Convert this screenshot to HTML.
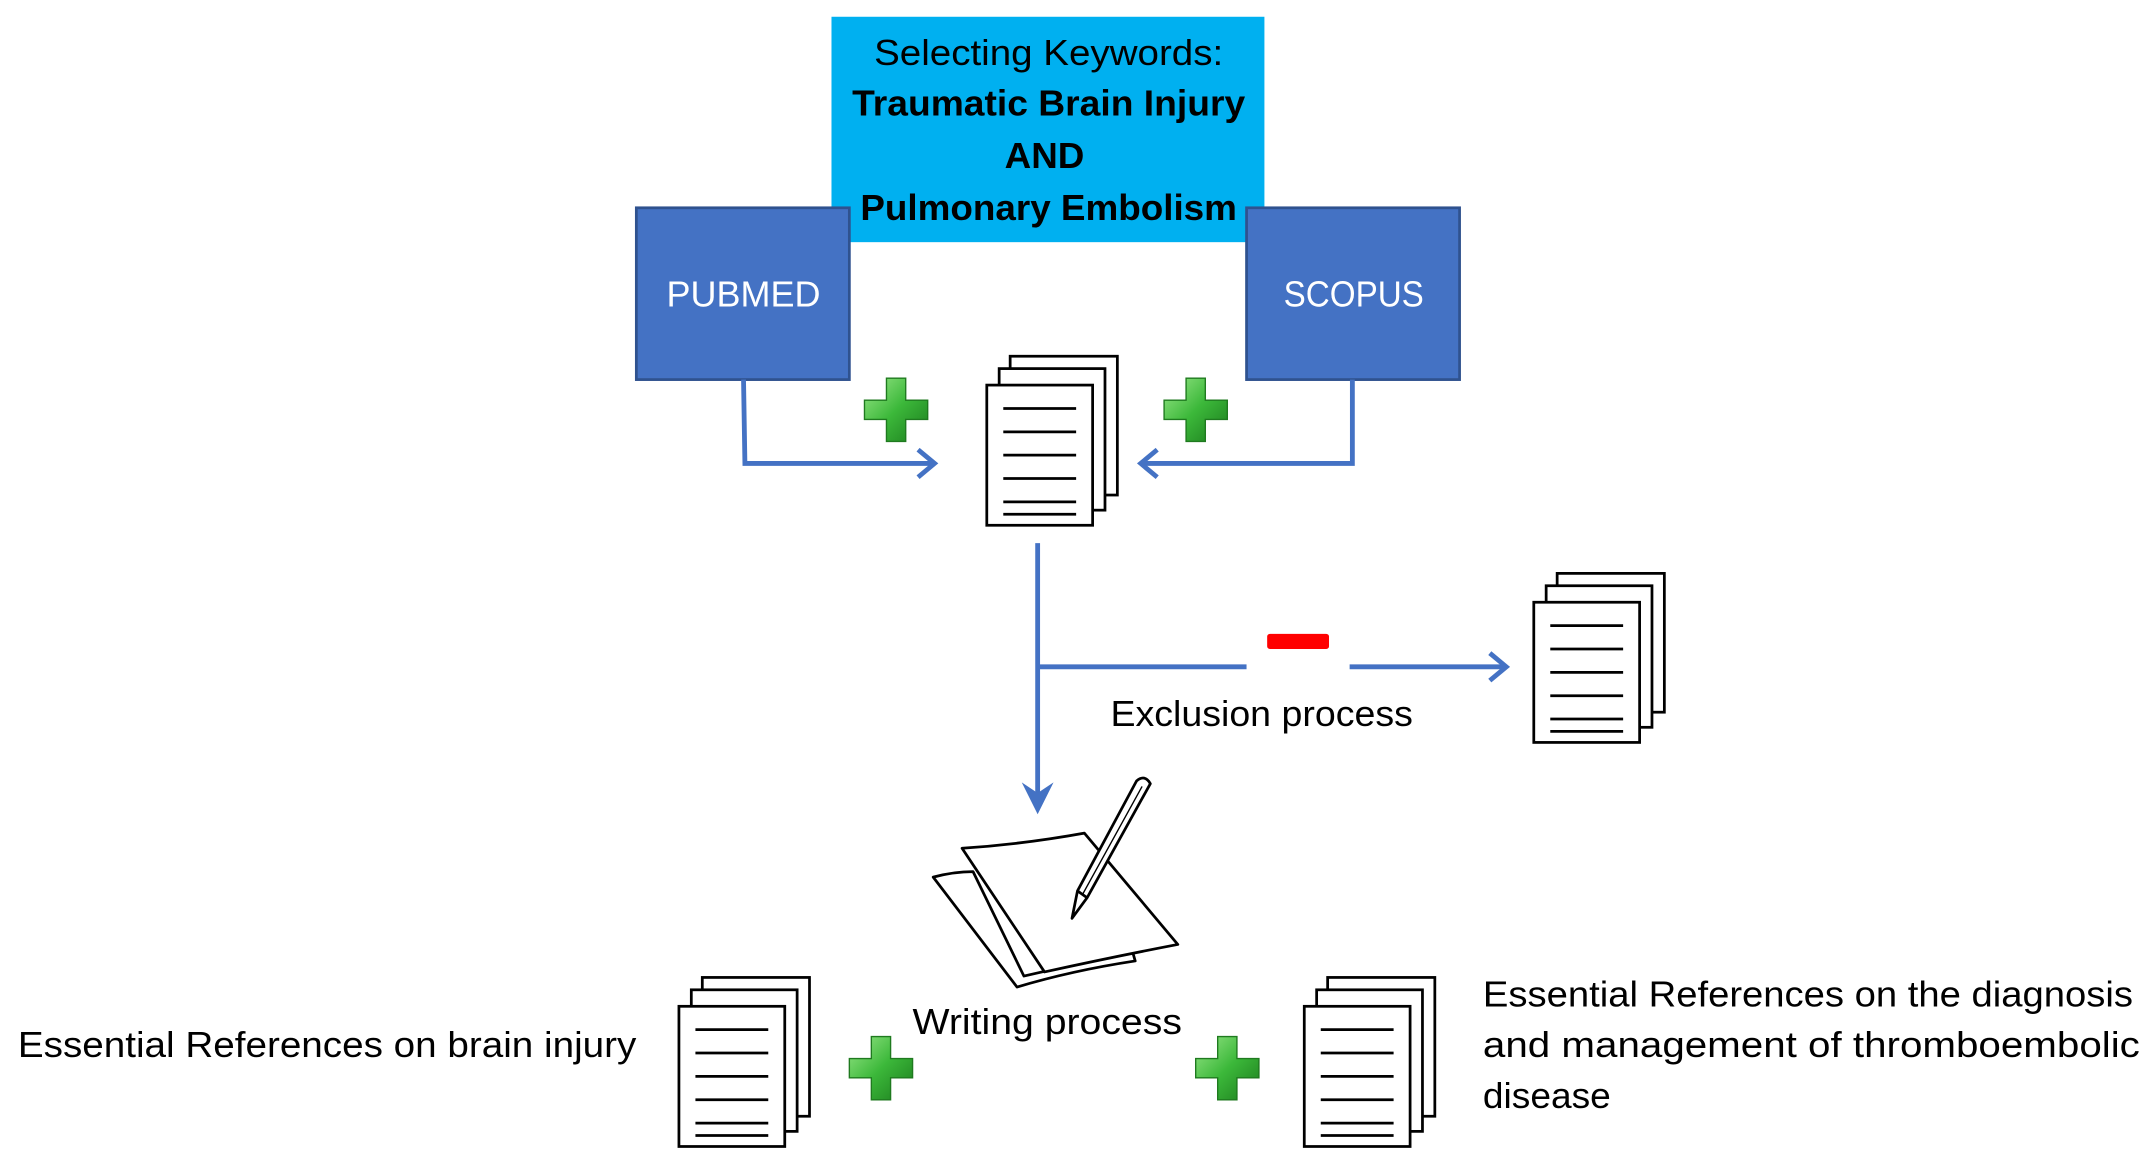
<!DOCTYPE html>
<html><head><meta charset="utf-8"><style>html,body{margin:0;padding:0;background:#fff}svg{display:block}</style></head>
<body>
<svg width="2155" height="1166" viewBox="0 0 1568 848" xmlns="http://www.w3.org/2000/svg" font-family="Liberation Sans, sans-serif">
<defs>
<linearGradient id="g" x1="0" y1="0" x2="1" y2="1">
<stop offset="0" stop-color="#9be88a"/><stop offset="0.5" stop-color="#3cb83a"/><stop offset="1" stop-color="#1a7a1c"/>
</linearGradient>
<g id="plus"><path d="M-7,-23 h14 v16 h16 v14 h-16 v16 h-14 v-16 h-16 v-14 h16 z" fill="url(#g)" stroke="#1f7a1f" stroke-width="1"/></g>
<g id="docs" fill="#fff" stroke="#000" stroke-width="2">
<rect x="17" y="0" width="78" height="101"/>
<rect x="9" y="9" width="77" height="103"/>
<rect x="0" y="21" width="77" height="102"/>
<g stroke-width="2"><line x1="12" y1="38" x2="65" y2="38"/><line x1="12" y1="55" x2="65" y2="55"/><line x1="12" y1="72" x2="65" y2="72"/><line x1="12" y1="89" x2="65" y2="89"/><line x1="12" y1="106" x2="65" y2="106"/><line x1="12" y1="115" x2="65" y2="115"/></g>
</g>
</defs>
<rect x="605" y="12" width="315" height="164" fill="#00B0F0"/>
<g text-anchor="middle" fill="#000">
<text x="763" y="47" font-size="26" textLength="254" lengthAdjust="spacingAndGlyphs">Selecting Keywords:</text>
<text x="763" y="84" font-size="26" font-weight="bold" textLength="286" lengthAdjust="spacingAndGlyphs">Traumatic Brain Injury</text>
<text x="760" y="122" font-size="26" font-weight="bold" textLength="58" lengthAdjust="spacingAndGlyphs">AND</text>
<text x="763" y="160" font-size="26" font-weight="bold" textLength="274" lengthAdjust="spacingAndGlyphs">Pulmonary Embolism</text>
</g>
<rect x="463" y="151" width="155" height="125" fill="#4472C4" stroke="#2F528F" stroke-width="2"/>
<rect x="907" y="151" width="155" height="125" fill="#4472C4" stroke="#2F528F" stroke-width="2"/>
<text x="541" y="223" font-size="26" fill="#fff" text-anchor="middle" textLength="112" lengthAdjust="spacingAndGlyphs">PUBMED</text>
<text x="985" y="223" font-size="26" fill="#fff" text-anchor="middle" textLength="102" lengthAdjust="spacingAndGlyphs">SCOPUS</text>
<g stroke="#4472C4" stroke-width="3.5" fill="none">
<path d="M541,276 L542,337 L680,337"/><path d="M668,327 L680,337 L668,347"/>
<path d="M984,276 L984,337 L830,337"/><path d="M842,327 L830,337 L842,347"/>
<path d="M755,395 L755,588"/>
<path d="M755,485 L907,485"/><path d="M982,485 L1095,485"/><path d="M1084,475 L1096,485 L1084,495"/>
</g>
<path d="M746,572 L755,590 L764,572 L755,578 Z" fill="#4472C4" stroke="#4472C4" stroke-width="2"/>
<use href="#plus" x="652" y="298"/>
<use href="#plus" x="870" y="298"/>
<use href="#plus" x="641" y="777"/>
<use href="#plus" x="893" y="777"/>
<rect x="922" y="461" width="45" height="11" rx="2" fill="#f00"/>
<use href="#docs" x="718" y="259"/>
<use href="#docs" x="1116" y="417"/>
<use href="#docs" x="494" y="711"/>
<use href="#docs" x="949" y="711"/>
<text x="808" y="528" font-size="26" textLength="220" lengthAdjust="spacingAndGlyphs">Exclusion process</text>
<text x="664" y="752" font-size="26" textLength="196" lengthAdjust="spacingAndGlyphs">Writing process</text>
<text x="13" y="769" font-size="26" textLength="450" lengthAdjust="spacingAndGlyphs">Essential References on brain injury</text>
<text x="1079" y="732" font-size="26" textLength="473" lengthAdjust="spacingAndGlyphs">Essential References on the diagnosis</text>
<text x="1079" y="769" font-size="26" textLength="478" lengthAdjust="spacingAndGlyphs">and management of thromboembolic</text>
<text x="1079" y="806" font-size="26" textLength="93" lengthAdjust="spacingAndGlyphs">disease</text>
<g fill="#fff" stroke="#000" stroke-width="2" stroke-linejoin="round">
<path d="M679,638 Q694,634 708,634 L745,710 L824,692 L826,699 Q780,706 740,718 Z"/>
<path d="M700,617 Q745,614 789,606 L857,687 Q810,696 760,707 Z"/>
<path d="M780,668 L784,648 L827,568 Q833,563 837,570 L791,653 Z"/>
<path d="M784,648 L791,653" fill="none"/>
<path d="M788,650 L831,572" fill="none" stroke-width="1"/>
</g>
</svg>
</body></html>
